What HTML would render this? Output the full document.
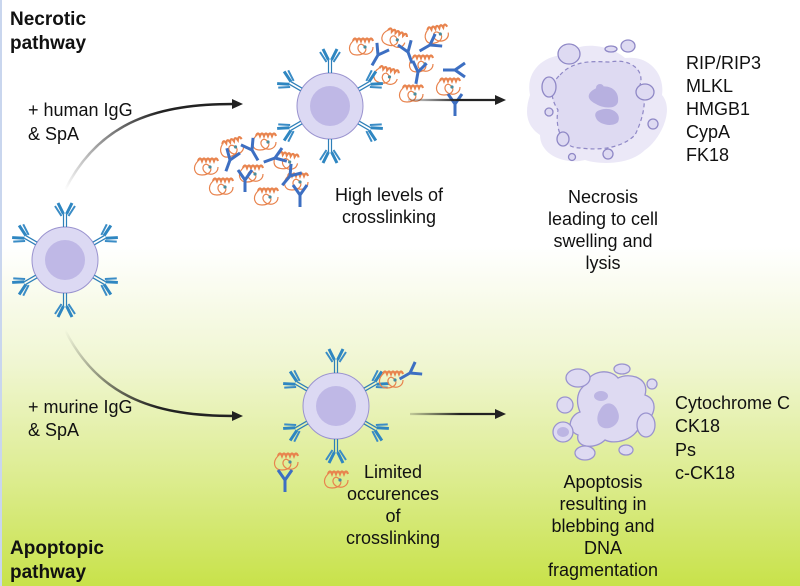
<!DOCTYPE html>
<html><head><meta charset="utf-8"><style>
html,body{margin:0;padding:0;width:800px;height:586px;overflow:hidden;}
svg{display:block;}
text{font-family:"Liberation Sans",sans-serif;fill:#111;}
</style></head><body>
<svg width="800" height="586" viewBox="0 0 800 586" xmlns="http://www.w3.org/2000/svg">
<defs>
<linearGradient id="bg" x1="0" y1="0" x2="0" y2="1">
<stop offset="0" stop-color="#ffffff"/>
<stop offset="0.42" stop-color="#ffffff"/>
<stop offset="0.62" stop-color="#f0f6d2"/>
<stop offset="0.82" stop-color="#dcec8e"/>
<stop offset="1" stop-color="#c8e24a"/>
</linearGradient>
<linearGradient id="ga1" gradientUnits="userSpaceOnUse" x1="65" y1="190" x2="160" y2="110">
<stop offset="0" stop-color="#222" stop-opacity="0"/>
<stop offset="1" stop-color="#222"/>
</linearGradient>
<linearGradient id="ga2" gradientUnits="userSpaceOnUse" x1="65" y1="330" x2="160" y2="405">
<stop offset="0" stop-color="#222" stop-opacity="0"/>
<stop offset="1" stop-color="#222"/>
</linearGradient>
<linearGradient id="gh" gradientUnits="userSpaceOnUse" x1="405" y1="0" x2="460" y2="0">
<stop offset="0" stop-color="#222" stop-opacity="0.1"/>
<stop offset="1" stop-color="#222"/>
</linearGradient>
<g id="ab">
<path d="M-1.5,0 V-13 M1.5,0 V-13" stroke="#2e7fb8" stroke-width="1.2" fill="none"/>
<path d="M-1.5,-13 L-7,-24 M1.5,-13 L7,-24" stroke="#2e86c1" stroke-width="3" fill="none"/>
<path d="M-3.5,-11 L-10,-21 M3.5,-11 L10,-21" stroke="#3a8cc6" stroke-width="2" fill="none"/>
</g>
<g id="abd">
<path d="M0,0 V12" stroke="#3d6fc2" stroke-width="3"/>
<path d="M0,0 L-7,-10 M0,0 L7,-10" stroke="#3d6fc2" stroke-width="3"/>
</g>
<g id="pr">
<path d="M-12,-4 q2,-5 4,0 q2,-5 4,0 q2,-5 4,0 q2,-5 4,0 q2,-5 4,0" stroke="#e8834d" stroke-width="2.2" fill="none"/>
<path d="M-12,-4 c-6,6 -4,14 4,14 c8,0 12,-6 6,-10 c-4,-3 -8,4 -2,8 c6,3 12,0 12,-6" stroke="#e8834d" stroke-width="1.2" fill="none"/>
<circle cx="0" cy="2" r="1.6" fill="#4a8c9c"/>
</g>
<g id="cell">
<circle r="33" fill="#dcd9f3" stroke="#9a93cf" stroke-width="1"/>
<circle r="20" fill="#bfb8e6"/>
<use href="#ab" transform="rotate(0) translate(0,-33)"/>
<use href="#ab" transform="rotate(60) translate(0,-33)"/>
<use href="#ab" transform="rotate(120) translate(0,-33)"/>
<use href="#ab" transform="rotate(180) translate(0,-33)"/>
<use href="#ab" transform="rotate(240) translate(0,-33)"/>
<use href="#ab" transform="rotate(300) translate(0,-33)"/>
</g>
</defs>
<rect width="800" height="586" fill="url(#bg)"/>
<rect x="0" y="0" width="2" height="586" fill="#c9d6ee"/>

<g>
<use href="#pr" transform="translate(365,45)"/>
<use href="#pr" transform="translate(398,38) rotate(20)"/>
<use href="#pr" transform="translate(425,62)"/>
<use href="#pr" transform="translate(440,32) rotate(-10)"/>
<use href="#pr" transform="translate(452,85)"/>
<use href="#pr" transform="translate(390,75) rotate(15)"/>
<use href="#pr" transform="translate(415,92)"/>
<use href="#abd" transform="translate(378,55) rotate(30)"/>
<use href="#abd" transform="translate(408,52) rotate(-20)"/>
<use href="#abd" transform="translate(430,45) rotate(60)"/>
<use href="#abd" transform="translate(418,72) rotate(10)"/>
<use href="#abd" transform="translate(455,70) rotate(90)"/>
<use href="#abd" transform="translate(455,104) rotate(0)"/>
<use href="#pr" transform="translate(210,165)"/>
<use href="#pr" transform="translate(235,145) rotate(-15)"/>
<use href="#pr" transform="translate(268,140)"/>
<use href="#pr" transform="translate(290,160) rotate(10)"/>
<use href="#pr" transform="translate(255,172)"/>
<use href="#pr" transform="translate(225,185)"/>
<use href="#pr" transform="translate(270,195)"/>
<use href="#pr" transform="translate(300,180)"/>
<use href="#abd" transform="translate(230,160) rotate(20)"/>
<use href="#abd" transform="translate(252,150) rotate(-30)"/>
<use href="#abd" transform="translate(275,158) rotate(70)"/>
<use href="#abd" transform="translate(245,180) rotate(0)"/>
<use href="#abd" transform="translate(290,176) rotate(40)"/>
<use href="#abd" transform="translate(300,195) rotate(0)"/>
</g>

<use href="#cell" transform="translate(65,260)"/>
<use href="#cell" transform="translate(330,106)"/>
<use href="#cell" transform="translate(336,406)"/>

<use href="#pr" transform="translate(395,378)"/>
<use href="#abd" transform="translate(410,373) rotate(60)"/>
<use href="#pr" transform="translate(290,460)"/>
<use href="#abd" transform="translate(285,480) rotate(0)"/>
<use href="#pr" transform="translate(340,478)"/>

<path d="M65,190 C100,120 160,104 234,104" stroke="url(#ga1)" stroke-width="2.5" fill="none"/>
<path d="M232,99 L243,104 L232,109 Z" fill="#222"/>
<path d="M65,330 C100,400 160,416 234,416" stroke="url(#ga2)" stroke-width="2.5" fill="none"/>
<path d="M232,411 L243,416 L232,421 Z" fill="#222"/>
<path d="M408,100 H496" stroke="url(#gh)" stroke-width="2.2" fill="none"/>
<path d="M495,95 L506,100 L495,105 Z" fill="#222"/>
<path d="M410,414 H496" stroke="url(#gh)" stroke-width="2.2" fill="none"/>
<path d="M495,409 L506,414 L495,419 Z" fill="#222"/>

<g>
<path d="M530,95 C525,70 545,55 565,55 C580,40 610,45 625,58 C650,55 665,75 662,95 C675,110 660,140 645,150 C630,165 600,165 585,160 C565,165 540,155 540,135 C525,125 525,110 530,95 Z" fill="#ebe8f7"/>
<path d="M560,75 C575,58 600,62 610,62 C630,58 645,70 640,85 C650,100 640,125 635,135 C620,150 595,150 580,148 C560,148 555,125 558,110 C548,95 552,82 560,75 Z" fill="#dedaf2" stroke="#8f88c6" stroke-width="1.2" stroke-dasharray="4,3"/>
<path d="M593,90 C605,82 620,88 618,102 C616,110 602,108 596,104 C588,100 586,95 593,90 Z" fill="#b7b0e0"/>
<path d="M600,110 C612,106 622,114 618,122 C612,128 598,124 596,118 C594,114 596,111 600,110 Z" fill="#b7b0e0"/>
<circle cx="600" cy="88" r="4" fill="#b7b0e0"/>
<ellipse cx="569" cy="54" rx="11" ry="10" fill="#dedaf2" stroke="#8f88c6" stroke-width="1.3"/>
<ellipse cx="628" cy="46" rx="7" ry="6" fill="#dedaf2" stroke="#8f88c6" stroke-width="1.3"/>
<ellipse cx="611" cy="49" rx="6" ry="3" fill="#dedaf2" stroke="#8f88c6" stroke-width="1.3"/>
<ellipse cx="549" cy="87" rx="7" ry="10" fill="#dedaf2" stroke="#8f88c6" stroke-width="1.3"/>
<ellipse cx="645" cy="92" rx="9" ry="8" fill="#dedaf2" stroke="#8f88c6" stroke-width="1.3"/>
<circle cx="549" cy="112" r="4" fill="#dedaf2" stroke="#8f88c6" stroke-width="1.3"/>
<circle cx="653" cy="124" r="5" fill="#dedaf2" stroke="#8f88c6" stroke-width="1.3"/>
<ellipse cx="563" cy="139" rx="6" ry="7" fill="#dedaf2" stroke="#8f88c6" stroke-width="1.3"/>
<circle cx="572" cy="157" r="3.5" fill="#dedaf2" stroke="#8f88c6" stroke-width="1.3"/>
<circle cx="608" cy="154" r="5" fill="#dedaf2" stroke="#8f88c6" stroke-width="1.3"/>
</g>

<g fill="#dedaf2" stroke="#9a93cf" stroke-width="1.3">
<path d="M585,385 C590,370 610,368 618,378 C630,372 650,378 645,395 C660,400 655,420 640,425 C635,440 615,445 605,440 C595,450 575,448 578,435 C565,430 570,415 580,412 C575,400 578,390 585,385 Z"/>
<ellipse cx="578" cy="378" rx="12" ry="9"/>
<ellipse cx="565" cy="405" rx="8" ry="8"/>
<ellipse cx="563" cy="432" rx="10" ry="10"/>
<ellipse cx="585" cy="453" rx="10" ry="7"/>
<ellipse cx="646" cy="425" rx="9" ry="12"/>
<ellipse cx="626" cy="450" rx="7" ry="5"/>
<circle cx="652" cy="384" r="5"/>
<ellipse cx="622" cy="369" rx="8" ry="5"/>
</g>
<g fill="#bcb5e3">
<path d="M600,410 C605,400 615,402 618,412 C622,422 612,430 604,428 C596,426 596,416 600,410 Z"/>
<ellipse cx="601" cy="396" rx="7" ry="5"/>
<ellipse cx="563" cy="432" rx="6" ry="5"/>
</g>

<g font-size="19" font-weight="bold">
<text x="10" y="25">Necrotic</text>
<text x="10" y="49">pathway</text>
<text x="10" y="554">Apoptopic</text>
<text x="10" y="578">pathway</text>
</g>
<g font-size="18">
<text x="28" y="116">+ human IgG</text>
<text x="28" y="140">&amp; SpA</text>
<text x="28" y="413">+ murine IgG</text>
<text x="28" y="436">&amp; SpA</text>
</g>
<g font-size="18" text-anchor="middle">
<text x="389" y="201">High levels of</text>
<text x="389" y="223">crosslinking</text>
<text x="603" y="203">Necrosis</text>
<text x="603" y="225">leading to cell</text>
<text x="603" y="247">swelling and</text>
<text x="603" y="269">lysis</text>
<text x="393" y="478">Limited</text>
<text x="393" y="500">occurences</text>
<text x="393" y="522">of</text>
<text x="393" y="544">crosslinking</text>
<text x="603" y="488">Apoptosis</text>
<text x="603" y="510">resulting in</text>
<text x="603" y="532">blebbing and</text>
<text x="603" y="554">DNA</text>
<text x="603" y="576">fragmentation</text>
</g>
<g font-size="18">
<text x="686" y="69">RIP/RIP3</text>
<text x="686" y="92">MLKL</text>
<text x="686" y="115">HMGB1</text>
<text x="686" y="138">CypA</text>
<text x="686" y="161">FK18</text>
<text x="675" y="409">Cytochrome C</text>
<text x="675" y="432">CK18</text>
<text x="675" y="456">Ps</text>
<text x="675" y="479">c-CK18</text>
</g>
</svg>
</body></html>
